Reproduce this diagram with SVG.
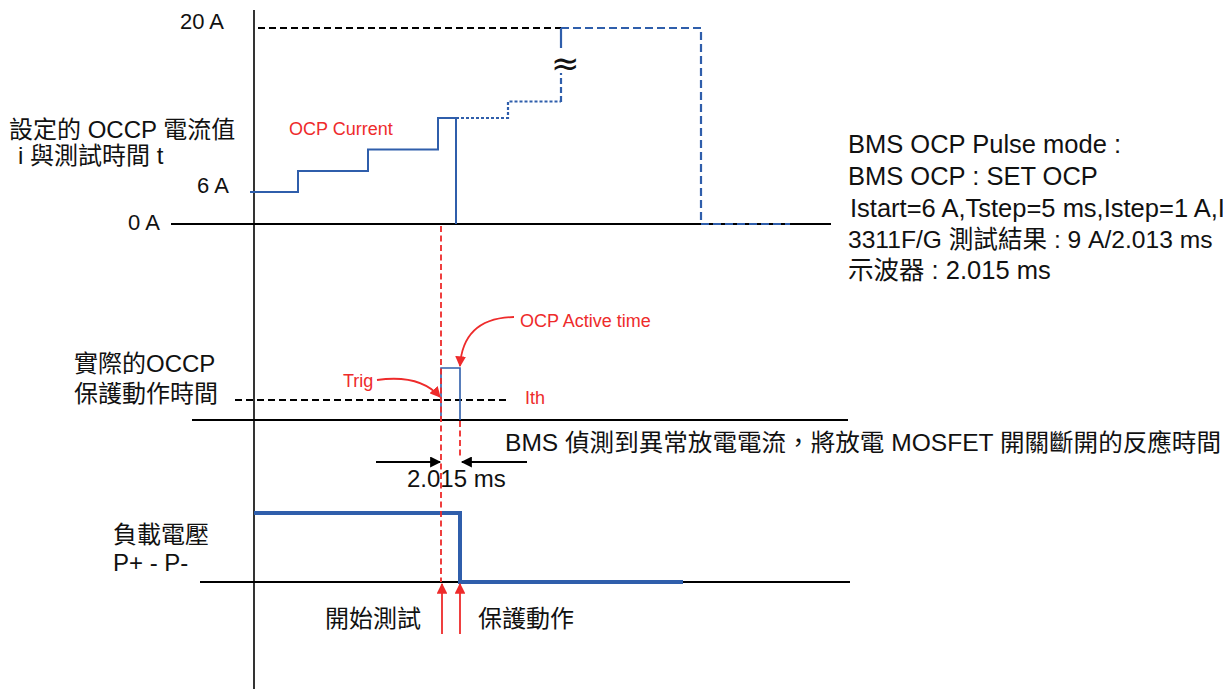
<svg xmlns="http://www.w3.org/2000/svg" width="1223" height="689" viewBox="0 0 1223 689">
<style>
text{font-family:"Liberation Sans","Noto Sans CJK TC",sans-serif;fill:#111}
.lbl{font-size:24px}
.ax{font-size:22px}
.big{font-size:25.5px}
.red{font-size:18px;fill:#EE2B2B}
.axis{stroke:#000;stroke-width:2;fill:none}
.vax{stroke:#000;stroke-width:1.6;fill:none}
.blue{stroke:#2F5EAB;stroke-width:2;fill:none}
.bluedash{stroke:#2F5EAB;stroke-width:2.2;fill:none;stroke-dasharray:8 4}
.bluedot{stroke:#2F5EAB;stroke-width:2.2;fill:none;stroke-dasharray:3 2}
.kdash{stroke:#000;stroke-width:1.8;fill:none;stroke-dasharray:7 4}
.rdash{stroke:#EE2B2B;stroke-width:1.8;fill:none;stroke-dasharray:6 3.5}
.rarrow{stroke:#EE2B2B;stroke-width:1.8;fill:none}
.karrow{stroke:#000;stroke-width:2;fill:none}
</style>
<defs>
<marker id="ahR" viewBox="0 0 10 10" refX="9" refY="5" markerWidth="6" markerHeight="6" markerUnits="strokeWidth" orient="auto">
<path d="M0,0 L10,5 L0,10 z" fill="#EE2B2B"/>
</marker>
<marker id="ahK" viewBox="0 0 10 10" refX="9" refY="5" markerWidth="7" markerHeight="5.5" markerUnits="strokeWidth" orient="auto">
<path d="M0,0 L10,5 L0,10 z" fill="#000"/>
</marker>
</defs>

<g id="axes">
<line class="vax" x1="254" y1="10" x2="254" y2="689"/>
<line class="axis" x1="171" y1="224" x2="831" y2="224"/>
<line class="axis" x1="192" y1="420" x2="848" y2="420"/>
<line class="axis" x1="200" y1="582" x2="850" y2="582"/>
<line class="kdash" x1="258" y1="28" x2="561" y2="28"/>
<line class="kdash" x1="235" y1="400" x2="510" y2="400"/>
</g>

<g id="ocp-current-waveform">
<polyline class="blue" points="250,192 298,192 298,171 368,171 368,149.5 438,149.5 438,118 456,118 456,224"/>
<polyline class="bluedot" points="456,118 508,118 508,101.5 561,101.5"/>
<line class="bluedash" x1="561" y1="102" x2="561" y2="73" style="stroke-dasharray:6 3"/>
<line class="blue" x1="561" y1="28" x2="561" y2="48" style="stroke-width:2.2"/>
<polyline class="bluedash" points="561,28 701,28 701,224 790,224"/>
<text x="551" y="75" style="font-size:34px;font-family:'DejaVu Sans',sans-serif">≈</text>
</g>

<g id="pulse-waveform">
<polyline class="blue" points="441,420 441,368 460,368 460,420" style="stroke-width:1.6"/>
</g>

<g id="load-voltage-waveform">
<polyline points="254,513 460,513 460,582 683,582" style="stroke:#2F5EAB;stroke-width:4;fill:none"/>
</g>

<g id="connectors">
<line class="rdash" x1="441" y1="226" x2="441" y2="582"/>
<line class="rdash" x1="460" y1="421" x2="460" y2="459"/>
<path class="rarrow" d="M377,380 Q420,374 440,397" marker-end="url(#ahR)"/>
<path class="rarrow" d="M514,317 Q463,318 460,366" marker-end="url(#ahR)"/>
<line class="karrow" x1="376" y1="462" x2="440" y2="462" marker-end="url(#ahK)"/>
<line class="karrow" x1="527" y1="462" x2="462" y2="462" marker-end="url(#ahK)"/>
<line class="rarrow" x1="442" y1="634" x2="442" y2="584" marker-end="url(#ahR)"/>
<line class="rarrow" x1="460" y1="634" x2="460" y2="584" marker-end="url(#ahR)"/>
</g>

<g id="axis-labels">
<text class="ax" x="180" y="29">20 A</text>
<text class="ax" x="197" y="193">6 A</text>
<text class="ax" x="128" y="230">0 A</text>
</g>

<g id="left-labels">
<text class="lbl" x="9" y="138">設定的 OCCP 電流值</text>
<text class="lbl" x="18" y="164">i  與測試時間 t</text>
<text class="lbl" x="74" y="372">實際的OCCP</text>
<text class="lbl" x="74" y="402">保護動作時間</text>
<text class="lbl" x="113" y="543">負載電壓</text>
<text class="lbl" x="113" y="571">P+ - P-</text>
</g>

<g id="red-labels">
<text class="red" x="289" y="135">OCP Current</text>
<text class="red" x="520" y="327">OCP Active time</text>
<text class="red" x="343" y="387">Trig</text>
<text class="red" x="525" y="404">Ith</text>
</g>

<g id="annotations">
<text class="lbl" x="407" y="487">2.015 ms</text>
<text class="lbl" x="505" y="451" textLength="716" lengthAdjust="spacingAndGlyphs">BMS 偵測到異常放電電流，將放電 MOSFET 開關斷開的反應時間</text>
<text class="lbl" x="325" y="627">開始測試</text>
<text class="lbl" x="478" y="627">保護動作</text>
</g>

<g id="settings-text">
<text class="big" x="848" y="153">BMS OCP Pulse mode :</text>
<text class="big" x="848" y="185">BMS OCP : SET OCP</text>
<text class="big" x="850" y="217">Istart=6 A,Tstep=5 ms,Istep=1 A,I</text>
<text class="big" x="848" y="248" style="font-size:24.6px">3311F/G 測試結果 : 9 A/2.013 ms</text>
<text class="big" x="848" y="279">示波器 : 2.015 ms</text>
</g>
</svg>
